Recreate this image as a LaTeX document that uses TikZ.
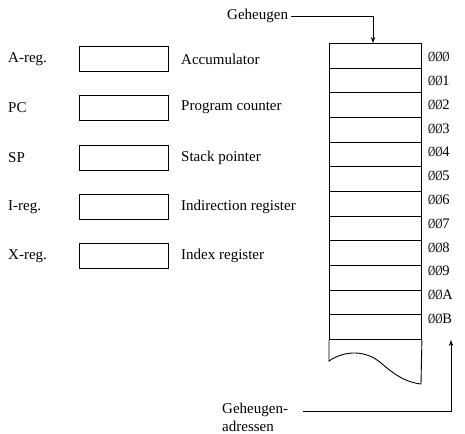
\documentclass[tikz,border=0pt]{standalone}
\usepackage{fontspec}
\setmainfont{Liberation Serif}
\usetikzlibrary{arrows.meta}
\newcommand\zsl{\scalebox{0.68}[0.97]{Ø}}
\begin{document}
\begin{tikzpicture}[x=1pt,y=-1pt, font=\fontsize{15}{18}\selectfont,
  reg/.style={draw, line width=0.9pt, minimum width=89pt, minimum height=25pt, inner sep=0pt},
  cell/.style={draw, line width=0.9pt, minimum width=92pt, minimum height=24.67pt, inner sep=0pt, anchor=north west},
  lab/.style={anchor=west, inner sep=0pt},
  addr/.style={anchor=west, inner sep=0pt, font=\fontsize{14.5}{17}\selectfont},
  arr/.style={line width=0.8pt, -{Stealth[length=6pt,width=4.5pt]}}]
\useasboundingbox (0,0) rectangle (465,433);

% registers
\foreach \n/\y/\l/\d in {ra/59/A-reg./Accumulator, rb/107.5/PC/Program counter, rc/157.5/SP/Stack pointer, rd/207/I-reg./Indirection register, re/256/X-reg./Index register}{
  \node[lab] (\n l) at (8,\y) {\l};
  \node[reg] (\n) at (123.5,\y) {};
  \node[lab] (\n d) at (181,\y) {\d};
}

% memory cells
\foreach \i in {0,...,11}{
  \node[cell] (c\i) at (329,{43+24.67*\i}) {};
}
\draw[line width=0.9pt] (c11.south west) -- (329,361)
  .. controls (345,350) and (366,350) .. (381,363)
  .. controls (395,375) and (405,382) .. (421,384) -- (c11.south east);

% addresses
\foreach \i/\t in {0/\zsl,1/1,2/2,3/3,4/4,5/5,6/6,7/7,8/8,9/9,10/A,11/B}{
  \node[addr] (a\i) at (428,{57+23.8*\i}) {\zsl\zsl\t};
}

% Geheugen
\node[lab] (gh) at (227,16) {Geheugen};
\coordinate (gt) at (373,43);
\draw[arr] ([xshift=3pt]gh.east) -| (gt);

% Geheugen-adressen
\node[lab] (ga1) at (222,410) {Geheugen-};
\node[lab] (ga2) at (222,426) {adressen};
\coordinate (at) at (451,340);
\draw[arr] ([xshift=15pt,yshift=-1pt]ga1.east) -| (at);
\end{tikzpicture}
\end{document}
